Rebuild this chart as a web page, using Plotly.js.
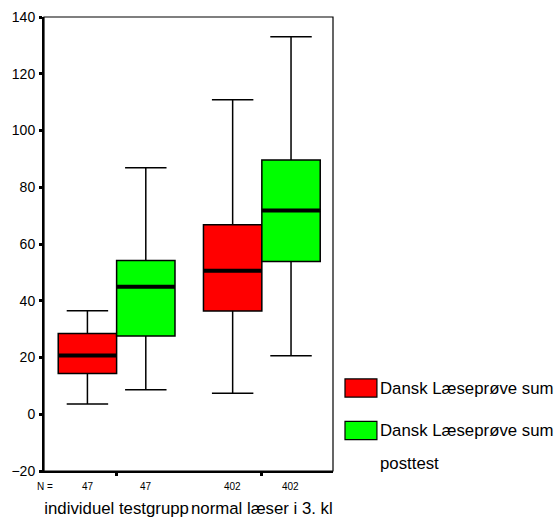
<!DOCTYPE html>
<html><head><meta charset="utf-8">
<script src="https://cdn.plot.ly/plotly-3.0.1.min.js"></script>
<style>body{margin:0;background:#fff}#c{width:558px;height:518px}</style>
</head><body><div id="c"></div>
<script>
var categories = ["individuel testgrupp", "normal læser i 3. kl"];
var seriesNames = ["Dansk Læseprøve sum", "Dansk Læseprøve sum posttest"];
var legendLines = [["Dansk Læseprøve sum"], ["Dansk Læseprøve sum", "posttest"]];
var seriesColors = ["#ff0000", "#00ff00"];
var nCounts = [[47, 402], [47, 402]];
// pre: lowerfence, q1, median, q3, upperfence per category
var preLow = [3.6, 7.4], preQ1 = [14.4, 36.4], preMed = [20.7, 50.6], preQ3 = [28.5, 66.8], preHigh = [36.5, 110.8];
var postLow = [8.6, 20.6], postQ1 = [27.6, 53.8], postMed = [44.9, 71.8], postQ3 = [54.2, 89.6], postHigh = [86.9, 133.0];

var stats = [
  {lo: preLow, q1: preQ1, med: preMed, q3: preQ3, hi: preHigh},
  {lo: postLow, q1: postQ1, med: postMed, q3: postQ3, hi: postHigh}
];
var data = [];
stats.forEach(function (s, i) {
  data.push({
    type: "box", x: categories, q1: s.q1, median: s.med, q3: s.q3,
    lowerfence: s.lo, upperfence: s.hi, name: seriesNames[i],
    offsetgroup: "g" + i, fillcolor: seriesColors[i],
    line: {color: "#000", width: 1.5}, whiskerwidth: 0.71,
    hoverinfo: "skip", showlegend: false
  });
});
stats.forEach(function (s, i) {
  data.push({
    type: "box", x: categories, q1: s.med, median: s.med, q3: s.med,
    lowerfence: s.med, upperfence: s.med, name: seriesNames[i] + " median",
    offsetgroup: "g" + i, fillcolor: "rgba(0,0,0,0)",
    line: {color: "#000", width: 4}, whiskerwidth: 0,
    hoverinfo: "skip", showlegend: false
  });
});

var font = "Liberation Sans, Arial, sans-serif";
var nY = -0.035;
var annotations = [{
  xref: "paper", yref: "paper", x: -0.032, y: nY, text: "N =",
  showarrow: false, xanchor: "left", yanchor: "middle", font: {family: font, size: 10, color: "#000"}
}];
nCounts.forEach(function (arr, i) {
  arr.forEach(function (n, j) {
    annotations.push({
      xref: "x", yref: "paper", x: categories[j], y: nY, text: String(n),
      xshift: i === 0 ? -29 : 29, showarrow: false, yanchor: "middle",
      font: {family: font, size: 10, color: "#000"}
    });
  });
});
var shapes = [{
  type: "rect", xref: "paper", yref: "paper", x0: 0, x1: 1, y0: 0, y1: 1,
  line: {color: "#000", width: 1.2}
}];
var legY = [0.1828, 0.0892];
var lineStep = 0.0727;
legendLines.forEach(function (lines, i) {
  shapes.push({
    type: "rect", xref: "paper", yref: "paper", x0: 1.0415, x1: 1.152,
    y0: legY[i] - 0.02, y1: legY[i] + 0.02,
    fillcolor: seriesColors[i], line: {color: "#000", width: 1.2}
  });
  lines.forEach(function (t, k) {
    annotations.push({
      xref: "paper", yref: "paper", x: 1.155, y: legY[i] - k * lineStep, text: t,
      showarrow: false, xanchor: "left", yanchor: "middle", align: "left",
      font: {family: font, size: 16.8, color: "#000"}
    });
  });
});

var layout = {
  width: 558, height: 518,
  margin: {l: 44, r: 225, t: 17, b: 47},
  paper_bgcolor: "#fff", plot_bgcolor: "#fff",
  boxmode: "group", boxgap: 0.196, boxgroupgap: 0,
  showlegend: false,
  font: {family: font, color: "#000"},
  xaxis: {
    type: "category", range: [-0.5, 1.49], showgrid: false, zeroline: false,
    showline: true, linecolor: "#000", linewidth: 2,
    ticks: "outside", ticklen: 3, tickwidth: 3, tickcolor: "#000",
    tickfont: {family: font, size: 16.8, color: "#000"}, ticklabelstandoff: 18
  },
  yaxis: {
    range: [-20, 140], tickvals: [-20, 0, 20, 40, 60, 80, 100, 120, 140],
    showgrid: false, zeroline: false,
    showline: true, linecolor: "#000", linewidth: 2,
    ticks: "outside", ticklen: 3, tickwidth: 3, tickcolor: "#000",
    tickfont: {family: font, size: 14, color: "#000"}, ticklabelstandoff: 1
  },
  shapes: shapes, annotations: annotations
};
Plotly.newPlot("c", data, layout, {displayModeBar: false, staticPlot: true});
</script></body></html>
